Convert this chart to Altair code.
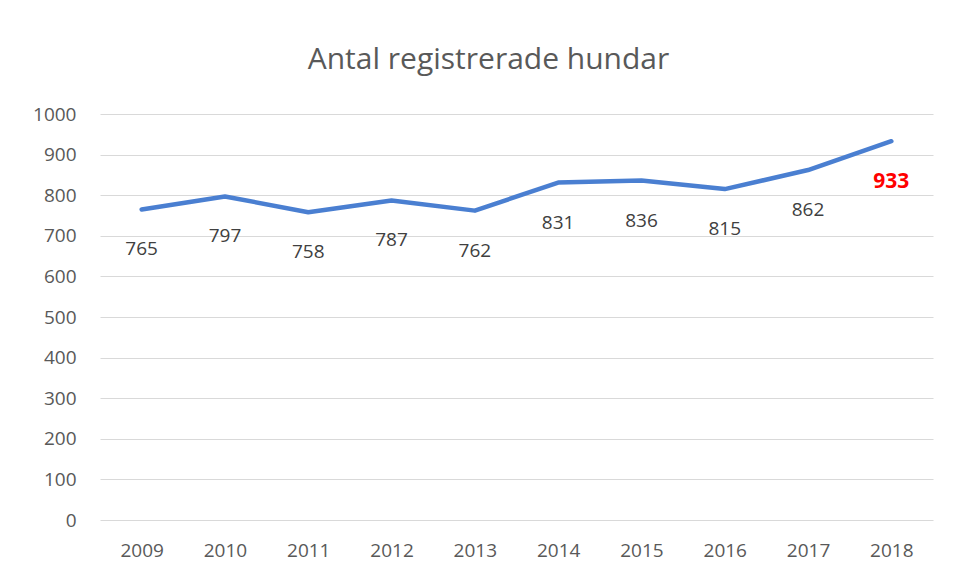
import altair as alt
import pandas as pd

years = ["2009", "2010", "2011", "2012", "2013", "2014", "2015", "2016", "2017", "2018"]
dogs = [765, 797, 758, 787, 762, 831, 836, 815, 862, 933]
highlight_year = "2018"

df = pd.DataFrame({"year": years, "dogs": dogs})

FONT = "Open Sans"

x = alt.X("year:O", title=None,
          scale=alt.Scale(paddingInner=0, paddingOuter=0.5, type="point"),
          axis=alt.Axis(labelAngle=0, ticks=False, domain=False, grid=False,
                        labelFontSize=19, labelColor="#595959", labelFont=FONT,
                        labelPadding=21))
y = alt.Y("dogs:Q", title=None,
          scale=alt.Scale(domain=[0, 1000], nice=False),
          axis=alt.Axis(values=list(range(0, 1001, 100)), format="d", ticks=False, domain=False,
                        grid=True, gridColor="#D9D9D9", gridWidth=1,
                        labelFontSize=19, labelColor="#595959", labelFont=FONT,
                        labelPadding=24))

base = alt.Chart(df).encode(x=x, y=y)

line = base.mark_line(color="#4A7FD1", strokeWidth=4.5, strokeCap="round", strokeJoin="round")

labels = base.transform_filter(alt.datum.year != highlight_year).mark_text(
    dy=40, fontSize=19, font=FONT, color="#404040"
).encode(text="dogs:Q")

hl = base.transform_filter(alt.datum.year == highlight_year).mark_text(
    dy=41, fontSize=21, font=FONT, fontWeight="bold", color="#FF0000"
).encode(text="dogs:Q")

chart = alt.layer(line, labels, hl).properties(
    width=833, height=406,
    title=alt.TitleParams("Antal registrerade hundar", fontSize=30, font=FONT,
                          fontWeight="normal", color="#595959", offset=30, dx=-28),
    autosize=alt.AutoSizeParams(type="none"),
    padding={"left": 92, "top": 106, "right": 16, "bottom": 45},
).configure_view(stroke=None)

chart.save("out.html", embed_options={"renderer": "svg", "actions": False})
